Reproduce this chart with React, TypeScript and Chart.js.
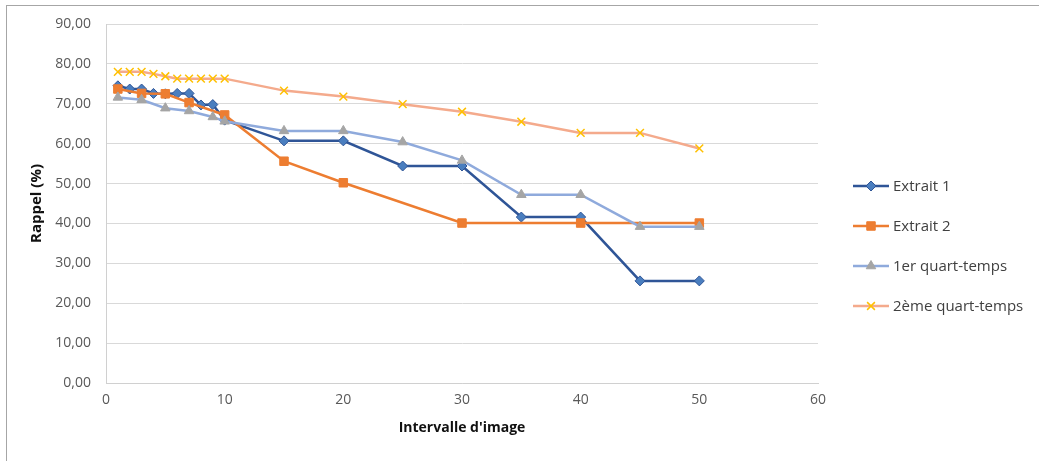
import React, { useEffect, useRef } from 'react';
import { Chart, registerables } from 'chart.js';

Chart.register(...registerables);

// ---- Data ----
const seriesNames = ['Extrait 1', 'Extrait 2', '1er quart-temps', '2ème quart-temps'];

const extrait1X = [1, 2, 3, 4, 5, 6, 7, 8, 9, 10, 15, 20, 25, 30, 35, 40, 45, 50];
const extrait1Y = [74.5, 73.7, 73.7, 72.6, 72.5, 72.6, 72.6, 69.7, 69.8, 65.9, 60.7, 60.7, 54.4, 54.4, 41.6, 41.6, 25.6, 25.6];

const extrait2X = [1, 3, 5, 7, 10, 15, 20, 30, 40, 50];
const extrait2Y = [73.7, 72.6, 72.5, 70.3, 67.2, 55.6, 50.2, 40.1, 40.1, 40.1];

const quart1X = [1, 3, 5, 7, 9, 10, 15, 20, 25, 30, 35, 40, 45, 50];
const quart1Y = [71.6, 71.0, 68.9, 68.2, 66.7, 65.6, 63.2, 63.2, 60.4, 55.8, 47.2, 47.2, 39.2, 39.2];

const quart2X = [1, 2, 3, 4, 5, 6, 7, 8, 9, 10, 15, 20, 25, 30, 35, 40, 45, 50];
const quart2Y = [78.0, 78.0, 78.0, 77.5, 76.9, 76.3, 76.3, 76.3, 76.3, 76.3, 73.3, 71.8, 69.9, 68.0, 65.5, 62.7, 62.7, 58.8];

const xTickValues = [0, 10, 20, 30, 40, 50, 60];
const yTickValues = [0, 10, 20, 30, 40, 50, 60, 70, 80, 90];

const xTitle = "Intervalle d'image";
const yTitle = 'Rappel (%)';

// ---- Styles ----
const FONT = "'Open Sans', 'Liberation Sans', sans-serif";
const styles = [
  { line: '#2f5597', fill: '#4a7ebf', border: '#2f5597', shape: 'rectRot', radius: 5 },
  { line: '#ed7d31', fill: '#ed7d31', border: '#ed7d31', shape: 'rect', radius: 6 },
  { line: '#8faadc', fill: '#a5a5a5', border: '#a5a5a5', shape: 'triangle', radius: 5.5 },
  { line: '#f4aa8c', fill: '#ffc000', border: '#ffc000', shape: 'crossRot', radius: 5.5 },
];

function toPoints(xs: number[], ys: number[]) {
  return xs.map((x, i) => ({ x, y: ys[i] }));
}

function drawMarker(ctx: CanvasRenderingContext2D, shape: string, x: number, y: number, r: number, fill: string, border: string) {
  ctx.beginPath();
  ctx.fillStyle = fill;
  ctx.strokeStyle = border;
  ctx.lineWidth = 1;
  if (shape === 'rectRot') {
    ctx.moveTo(x, y - r); ctx.lineTo(x + r, y); ctx.lineTo(x, y + r); ctx.lineTo(x - r, y); ctx.closePath();
    ctx.fill(); ctx.stroke();
  } else if (shape === 'rect') {
    const s = r * Math.SQRT1_2;
    ctx.rect(x - s, y - s, 2 * s, 2 * s);
    ctx.fill(); ctx.stroke();
  } else if (shape === 'triangle') {
    const h = r * 1.5;
    const w = r * Math.sqrt(3) / 2;
    ctx.moveTo(x - w, y + r / 2); ctx.lineTo(x + w, y + r / 2); ctx.lineTo(x, y + r / 2 - h); ctx.closePath();
    ctx.fill(); ctx.stroke();
  } else {
    const d = r * Math.SQRT1_2;
    ctx.lineWidth = 1.5;
    ctx.moveTo(x - d, y - d); ctx.lineTo(x + d, y + d);
    ctx.moveTo(x + d, y - d); ctx.lineTo(x - d, y + d);
    ctx.stroke();
  }
}

const sideLegend = {
  id: 'sideLegend',
  afterDraw(chart: any) {
    const ctx: CanvasRenderingContext2D = chart.ctx;
    const area = chart.chartArea;
    const x0 = area.right + 35;
    const top = 186;
    const gap = 40;
    ctx.save();
    seriesNames.forEach((name, i) => {
      const st = styles[i];
      const y = top + i * gap;
      ctx.beginPath();
      ctx.strokeStyle = st.line;
      ctx.lineWidth = 2.5;
      ctx.moveTo(x0, y);
      ctx.lineTo(x0 + 36, y);
      ctx.stroke();
      drawMarker(ctx, st.shape, x0 + 18, y, st.radius, st.fill, st.border);
      ctx.fillStyle = '#404040';
      ctx.font = `15px ${FONT}`;
      ctx.textBaseline = 'middle';
      ctx.textAlign = 'left';
      ctx.fillText(name, x0 + 40, y + 1);
    });
    ctx.restore();
  },
};

export default function App() {
  const ref = useRef<HTMLCanvasElement>(null);

  useEffect(() => {
    if (!ref.current) return;
    const seriesX = [extrait1X, extrait2X, quart1X, quart2X];
    const seriesY = [extrait1Y, extrait2Y, quart1Y, quart2Y];
    const datasets = seriesNames.map((name, i) => {
      const st = styles[i];
      return {
        label: name,
        data: toPoints(seriesX[i], seriesY[i]),
        borderColor: st.line,
        backgroundColor: st.fill,
        borderWidth: 2.5,
        tension: 0,
        pointStyle: st.shape,
        pointRadius: st.radius,
        pointBackgroundColor: st.fill,
        pointBorderColor: st.border,
        pointBorderWidth: st.shape === 'crossRot' ? 1.5 : 1,
        order: 4 - i,
      };
    });

    const chart = new Chart(ref.current, {
      type: 'line',
      data: { datasets },
      options: {
        animation: false,
        responsive: false,
        devicePixelRatio: 1,
        events: [],
        layout: { padding: { left: 0, top: 24, right: 221, bottom: 0 } },
        plugins: {
          legend: { display: false },
          tooltip: { enabled: false },
        },
        scales: {
          x: {
            type: 'linear',
            min: 0,
            max: 60,
            afterBuildTicks: (scale: any) => {
              scale.ticks = xTickValues.map((v) => ({ value: v }));
            },
            afterFit: (scale: any) => {
              scale.height = 78;
            },
            ticks: {
              color: '#595959',
              font: { family: FONT, size: 14 },
              padding: 9,
              maxRotation: 0,
              callback: (v: any) => String(v),
            },
            grid: { display: false, drawTicks: false },
            border: { display: true, color: '#d0d0d0', width: 1 },
            title: {
              display: true,
              text: xTitle,
              color: '#111111',
              font: { family: FONT, size: 14, weight: 'bold' },
              padding: { top: 0, bottom: 25 },
            },
          },
          y: {
            type: 'linear',
            min: 0,
            max: 90,
            afterBuildTicks: (scale: any) => {
              scale.ticks = yTickValues.map((v) => ({ value: v }));
            },
            afterFit: (scale: any) => {
              scale.width = 106;
            },
            ticks: {
              color: '#595959',
              font: { family: FONT, size: 14 },
              padding: 15,
              callback: (v: any) => Number(v).toFixed(2).replace('.', ','),
            },
            grid: { display: true, color: '#d9d9d9', lineWidth: 1, drawTicks: false },
            border: { display: true, color: '#d0d0d0', width: 1 },
            title: {
              display: true,
              text: yTitle,
              color: '#111111',
              font: { family: FONT, size: 15, weight: 'bold' },
              padding: { top: 28, bottom: 0 },
            },
          },
        },
      } as any,
      plugins: [sideLegend],
    });
    return () => chart.destroy();
  }, []);

  return (
    <div style={{ position: 'fixed', left: 0, top: 0, width: 1039, height: 461, background: '#ffffff', overflow: 'hidden' }}>
      <div
        style={{
          position: 'absolute',
          left: 6,
          top: 5,
          width: 1040,
          height: 460,
          borderTop: '1px solid #a6a6a6',
          borderLeft: '1px solid #a6a6a6',
        }}
      />
      <canvas
        ref={ref}
        width={1039}
        height={461}
        style={{ position: 'absolute', left: 0, top: 0, width: 1039, height: 461 }}
      />
    </div>
  );
}
